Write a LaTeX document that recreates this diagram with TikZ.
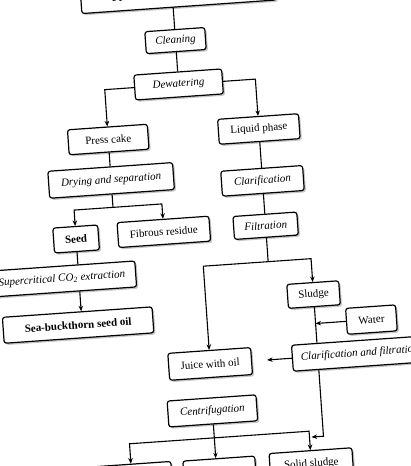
\documentclass[tikz,border=0pt]{standalone}
\usepackage{fontspec}
\setmainfont{Liberation Serif}
\usetikzlibrary{shadows,arrows.meta}

\begin{document}
\begin{tikzpicture}[
        x=1pt, y=-1pt,
        >={Stealth[length=5.5pt,width=4.5pt]},
        every node/.style={font=\fontsize{11}{13}\selectfont},
        box/.style={draw=black, line width=1.2pt, rounded corners=2.5pt, fill=white,
            drop shadow={shadow xshift=1.8pt, shadow yshift=-1.8pt, opacity=0.45},
            minimum height=25pt, inner sep=2pt},
        procBox/.style={box, font=\fontsize{11}{13}\selectfont\itshape},
        prodBox/.style={box},
        keyBox/.style={box, font=\fontsize{11}{13}\selectfont\bfseries},
        flowLine/.style={line width=1.1pt},
        flowArrow/.style={->, line width=1.1pt}
    ]
        \useasboundingbox (0,0) rectangle (411,466);
        \clip (0,0) rectangle (411,466);

        % whole chart is printed slightly tilted
        \begin{scope}[rotate around={4:(205,233)}, transform shape]

        \node[keyBox, minimum width=195pt, minimum height=27pt] (berries) at (195,-8) {Fresh sea-buckthorn berries};
        \node[procBox, minimum width=60pt, minimum height=22pt] (cleaning) at (189,39) {Cleaning};
        \node[procBox, minimum width=88pt] (dewatering) at (189,83) {Dewatering};

        % left branch: press cake
        \node[prodBox, minimum width=80pt] (pressCake) at (115,133) {Press cake};
        \node[procBox, minimum width=125pt, minimum height=27pt] (drying) at (115,174) {Drying and separation};
        \node[keyBox, minimum width=45pt] (seed) at (76,230) {Seed};
        \node[prodBox, minimum width=92pt] (fibrous) at (164,229) {Fibrous residue};
        \node[procBox, minimum width=148pt, minimum height=26pt] (scExtract) at (59,269) {Supercritical CO\textsubscript{2} extraction};
        \node[keyBox, minimum width=150pt, minimum height=26pt] (seedOil) at (72,316) {Sea-buckthorn seed oil};

        % right branch: liquid phase
        \node[prodBox, minimum width=81pt] (liquidPhase) at (266,133) {Liquid phase};
        \node[procBox, minimum width=82pt] (clarif) at (266,185) {Clarification};
        \node[procBox, minimum width=64pt, minimum height=23pt] (filtration) at (266,230) {Filtration};
        \node[prodBox, minimum width=52pt, minimum height=24pt] (sludge) at (309,302) {Sludge};
        \node[prodBox, minimum width=50pt, minimum height=26pt] (water) at (365,331) {Water};
        \node[procBox, minimum width=135pt, minimum height=26pt] (clarFilt) at (351,364) {Clarification and filtration};
        \node[prodBox, minimum width=83pt, minimum height=27pt] (juice) at (201,364) {Juice with oil};
        \node[procBox, minimum width=89pt, minimum height=26pt] (centri) at (200,411) {Centrifugation};
        \node[prodBox, minimum width=80pt, minimum height=27pt] (pulpOil) at (115,472) {Pulp oil};
        \node[prodBox, minimum width=72pt, minimum height=30pt] (clearJuice) at (203,474) {Clarified juice};
        \node[prodBox, minimum width=83pt, minimum height=27pt] (solid) at (295,471) {Solid sludge};

        % main line
        \draw[flowLine] (cleaning.north |- berries.south) -- (cleaning.north);
        \draw[flowLine] (cleaning) -- (dewatering);
        \draw[flowArrow] (dewatering.west) -| (pressCake.north);
        \draw[flowArrow] (dewatering.east) -| (liquidPhase.north);

        % seed side
        \draw[flowLine] (pressCake) -- (drying);
        \coordinate (dryJoin) at (115,201);
        \draw[flowLine] (drying.south) -- (dryJoin);
        \draw[flowArrow] (dryJoin) -| (seed.north);
        \draw[flowArrow] (dryJoin) -| (fibrous.north);
        \draw[flowLine] (seed.south) -- (seed.south |- scExtract.north);
        \draw[flowArrow] (scExtract.south -| seed.south) -- (seedOil.north -| seed.south);

        % juice side
        \draw[flowLine] (liquidPhase) -- (clarif);
        \draw[flowLine] (clarif) -- (filtration);
        \coordinate (filtJoin) at (266,266);
        \draw[flowLine] (filtration.south) -- (filtJoin);
        \draw[flowArrow] (filtJoin) -| (juice.north);
        \draw[flowArrow] (filtJoin) -| (sludge.north);
        \draw[flowLine] (sludge.south) -- (sludge.south |- clarFilt.north);
        \draw[flowArrow] (water.west) -- (water.west -| sludge.south);
        \draw[flowArrow, shorten >=15pt] (clarFilt.west) -- (juice.east);

        % centrifugation outputs
        \coordinate (centJoin) at (200,438);
        \coordinate (cfTurn) at (309,444);
        \draw[flowLine] (centri.south) -- (centJoin);
        \draw[flowArrow] (centJoin) -| (pulpOil.north);
        \draw[flowArrow] (centJoin) -- (centJoin |- clearJuice.north);
        \draw[flowArrow] (centJoin) -| (solid.north);
        \draw[flowArrow] (clarFilt.south -| sludge.south) |- ([xshift=2pt]solid.north |- cfTurn);

        \end{scope}
    \end{tikzpicture}
\end{document}
